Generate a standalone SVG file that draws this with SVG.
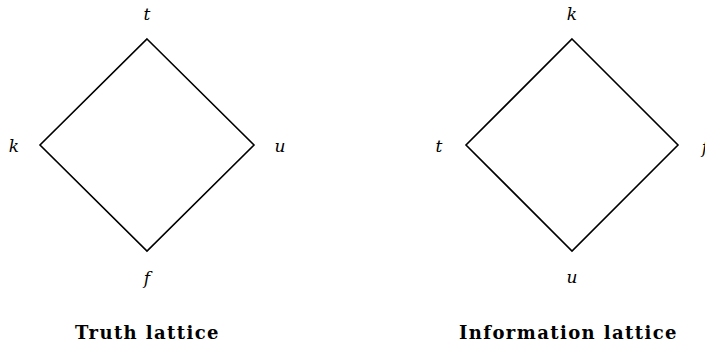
<svg xmlns="http://www.w3.org/2000/svg" width="705" height="350" viewBox="0 0 705 350">
<style>
.e{fill:none;stroke:#000;stroke-width:1.6;stroke-linejoin:miter}
.l{font-family:"DejaVu Serif",serif;font-style:italic;font-size:17px;text-anchor:middle;fill:#000}
.c{font-family:"DejaVu Serif",serif;font-weight:bold;font-size:18px;letter-spacing:1.4px;text-anchor:middle;fill:#000}
</style>
<rect width="705" height="350" fill="#fff"/>
<g id="connectors">
<polygon class="e" points="147,39 254,145 147,251 40,145"/>
<polygon class="e" points="572,39 678,145 572,251 466,145"/>
</g>
<g id="truth-t"><text class="l" x="147" y="20">t</text></g>
<g id="truth-k"><text class="l" x="14" y="152">k</text></g>
<g id="truth-u"><text class="l" x="280" y="152">u</text></g>
<g id="truth-f"><text class="l" x="147" y="284">f</text></g>
<g id="info-k"><text class="l" x="572" y="20">k</text></g>
<g id="info-t"><text class="l" x="439" y="152">t</text></g>
<g id="info-f"><text class="l" x="705" y="153">f</text></g>
<g id="info-u"><text class="l" x="572" y="283">u</text></g>
<g id="caption-truth"><text class="c" x="147.5" y="339">Truth lattice</text></g>
<g id="caption-info"><text class="c" x="568.5" y="339">Information lattice</text></g>
</svg>
